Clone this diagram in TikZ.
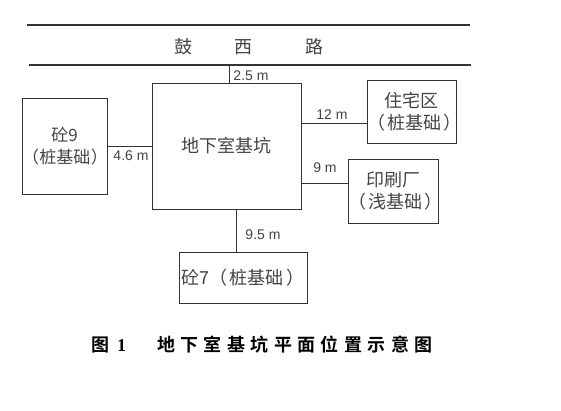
\documentclass[tikz,border=0pt]{standalone}
\usepackage{fontspec}
\setmainfont{Liberation Sans}
\newfontfamily\cjk{Noto Sans CJK SC}
\newfontfamily\capfont[LetterSpace=30]{Noto Sans CJK SC Bold}
\newfontfamily\capnum{Noto Sans CJK SC Bold}
\newfontfamily\capdigit{Liberation Serif}
\definecolor{linec}{HTML}{333333}
\definecolor{txtc}{HTML}{444444}
\newcommand{\lp}{（\kern2.5pt}
\newcommand{\rp}{\kern2.5pt）}
\tikzset{
  box/.style={draw=linec, line width=1pt, inner sep=0pt, align=center,
    font=\cjk\fontsize{18}{22}\selectfont, text=txtc},
  lbl/.style={font=\fontsize{14}{16}\selectfont, text=txtc, inner sep=0pt},
  conn/.style={draw=linec, line width=1pt},
  road/.style={draw=linec, line width=1.3pt},
  roadtxt/.style={font=\cjk\fontsize{18}{20}\selectfont, text=txtc, inner sep=0pt}
}
\begin{document}
\begin{tikzpicture}[x=1pt,y=-1pt]
\useasboundingbox (0,0) rectangle (561,410);
\fill[white] (0,0) rectangle (561,410);
% road
\draw[road] (27,25) -- (470,25);
\draw[road] (29,65) -- (471,65);
\coordinate (roadedge) at (229,65);
\node[roadtxt] (r1) at (183,47) {鼓};
\node[roadtxt] (r2) at (243,47) {西};
\node[roadtxt] (r3) at (314,47) {路};
% boxes
\node[box, text width=149pt, minimum height=126pt] (pit) at (226.5,146) {地下室基坑};
\node[box, text width=85pt, minimum height=96pt, font=\cjk\fontsize{17}{22}\selectfont] (c9) at (64.5,146) {砼9\\（\kern0.5pt 桩基础\kern0.5pt ）};
\node[box, text width=89pt, minimum height=63pt] (res) at (411.5,111.5) {住宅区\\\lp 桩基础\rp};
\node[box, text width=90pt, minimum height=64pt] (prt) at (393,191) {印刷厂\\\lp 浅基础\rp};
\node[box, text width=128pt, minimum height=51pt] (c7) at (243,277.5) {砼7\lp 桩基础\rp};
% connectors
\draw[conn] (roadedge) -- (pit.north -| roadedge);
\draw[conn] (c9.east) -- (pit.west);
\draw[conn] (pit.east |- 0,123) -- (res.west |- 0,123);
\draw[conn] (pit.east |- 0,183) -- (prt.west |- 0,183);
\draw[conn] (pit.south -| 236,0) -- (c7.north -| 236,0);
% labels
\node[lbl] (l25) at (251,76) {2.5 m};
\node[lbl] (l46) at (131,156) {4.6 m};
\node[lbl] (l12) at (332,115) {12 m};
\node[lbl] (l9) at (325,168) {9 m};
\node[lbl] (l95) at (263,235) {9.5 m};
% caption
\node[anchor=west, inner sep=0pt, font=\fontsize{18}{20}\selectfont] (fig) at (91,345) {\capnum 图\hspace{8pt}\capdigit\bfseries 1};
\node[anchor=west, inner sep=0pt, font=\capfont\fontsize{18}{20}\selectfont] (cap) at (157,345) {地下室基坑平面位置示意图};
\end{tikzpicture}
\end{document}
